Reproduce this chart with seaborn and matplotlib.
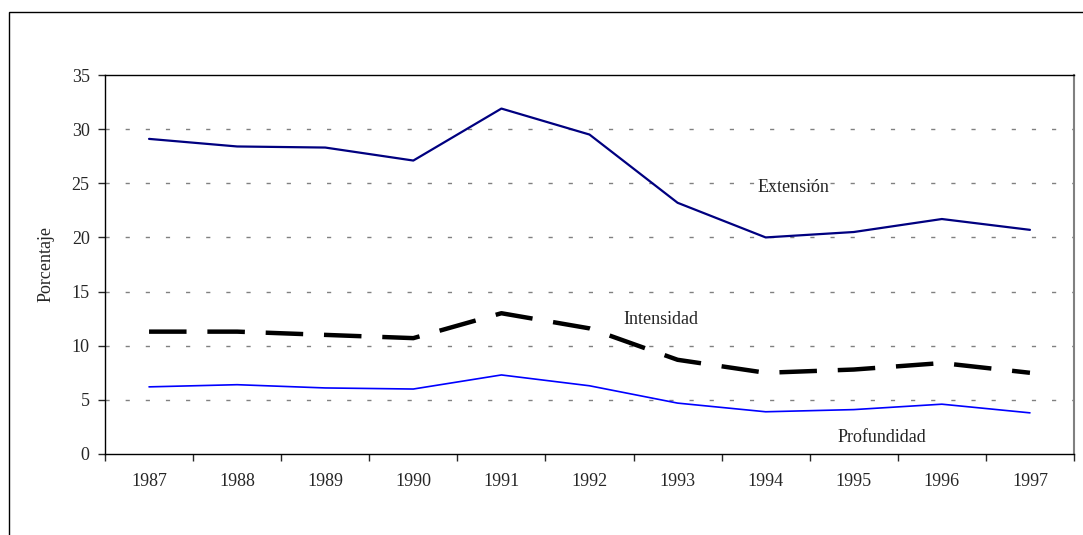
import matplotlib
matplotlib.use('Agg')
import matplotlib.pyplot as plt
import pandas as pd
import seaborn as sns
from matplotlib.patches import Rectangle

# datos
anios = ['1987', '1988', '1989', '1990', '1991', '1992', '1993', '1994', '1995', '1996', '1997']
extension = [29.1, 28.4, 28.3, 27.1, 31.9, 29.5, 23.2, 20.0, 20.5, 21.7, 20.7]
intensidad = [11.3, 11.3, 11.0, 10.7, 13.0, 11.6, 8.7, 7.5, 7.8, 8.4, 7.5]
profundidad = [6.2, 6.4, 6.1, 6.0, 7.3, 6.3, 4.7, 3.9, 4.1, 4.6, 3.8]

sns.set_style('white')
plt.rcParams['font.family'] = ['Liberation Serif', 'DejaVu Serif']
plt.rcParams['lines.scale_dashes'] = False

df = pd.DataFrame({'x': range(len(anios)), 'Extensión': extension,
                   'Intensidad': intensidad, 'Profundidad': profundidad})

fig = plt.figure(figsize=(10.83, 5.35), dpi=100)
ax = fig.add_axes([105 / 1083, 1 - 454 / 535, (1074 - 105) / 1083, (454 - 75) / 535])

# borde del área del gráfico
fig.patches.append(Rectangle((9 / 1083, -0.05), 1.2, 1 - 12 / 535 + 0.05,
                             transform=fig.transFigure, fill=False,
                             edgecolor='black', linewidth=1.0))

# cuadrícula punteada
for v in range(5, 35, 5):
    ax.axhline(v, color='#808080', linewidth=1.0, linestyle=(0, (3, 11.5)), zorder=1)

sns.lineplot(data=df, x='x', y='Extensión', ax=ax, color='#000080', linewidth=1.6, zorder=3)
sns.lineplot(data=df, x='x', y='Intensidad', ax=ax, color='black', linewidth=3.2,
             linestyle=(0, (27, 15)), zorder=3)
sns.lineplot(data=df, x='x', y='Profundidad', ax=ax, color='#0000FF', linewidth=1.2, zorder=3)

ax.set_xlim(-0.5, len(anios) - 0.5)
ax.set_ylim(0, 35)
ax.set_yticks(range(0, 36, 5))
ax.set_xticks([i - 0.5 for i in range(len(anios) + 1)])
ax.set_xticklabels([])
ax.set_xticks(range(len(anios)), minor=True)
ax.set_xticklabels(anios, minor=True)
ax.tick_params(axis='x', which='major', direction='out', length=5, width=1, bottom=True)
ax.tick_params(axis='x', which='minor', length=0, pad=14, labelsize=13)
ax.tick_params(axis='y', direction='out', length=5, width=1, left=True, pad=6, labelsize=13)

ax.set_xlabel('')
ax.set_ylabel('Porcentaje', fontsize=13, labelpad=12)

for s in ['left', 'bottom', 'top']:
    ax.spines[s].set_color('black')
    ax.spines[s].set_linewidth(1.0)
ax.spines['right'].set_color('#808080')
ax.spines['right'].set_linewidth(1.5)

ax.text(7.31, 24.6, 'Extensión', fontsize=13, ha='center', va='center')
ax.text(5.81, 12.4, 'Intensidad', fontsize=13, ha='center', va='center')
ax.text(8.32, 1.55, 'Profundidad', fontsize=13, ha='center', va='center')

fig.savefig('out.png', dpi=100)
